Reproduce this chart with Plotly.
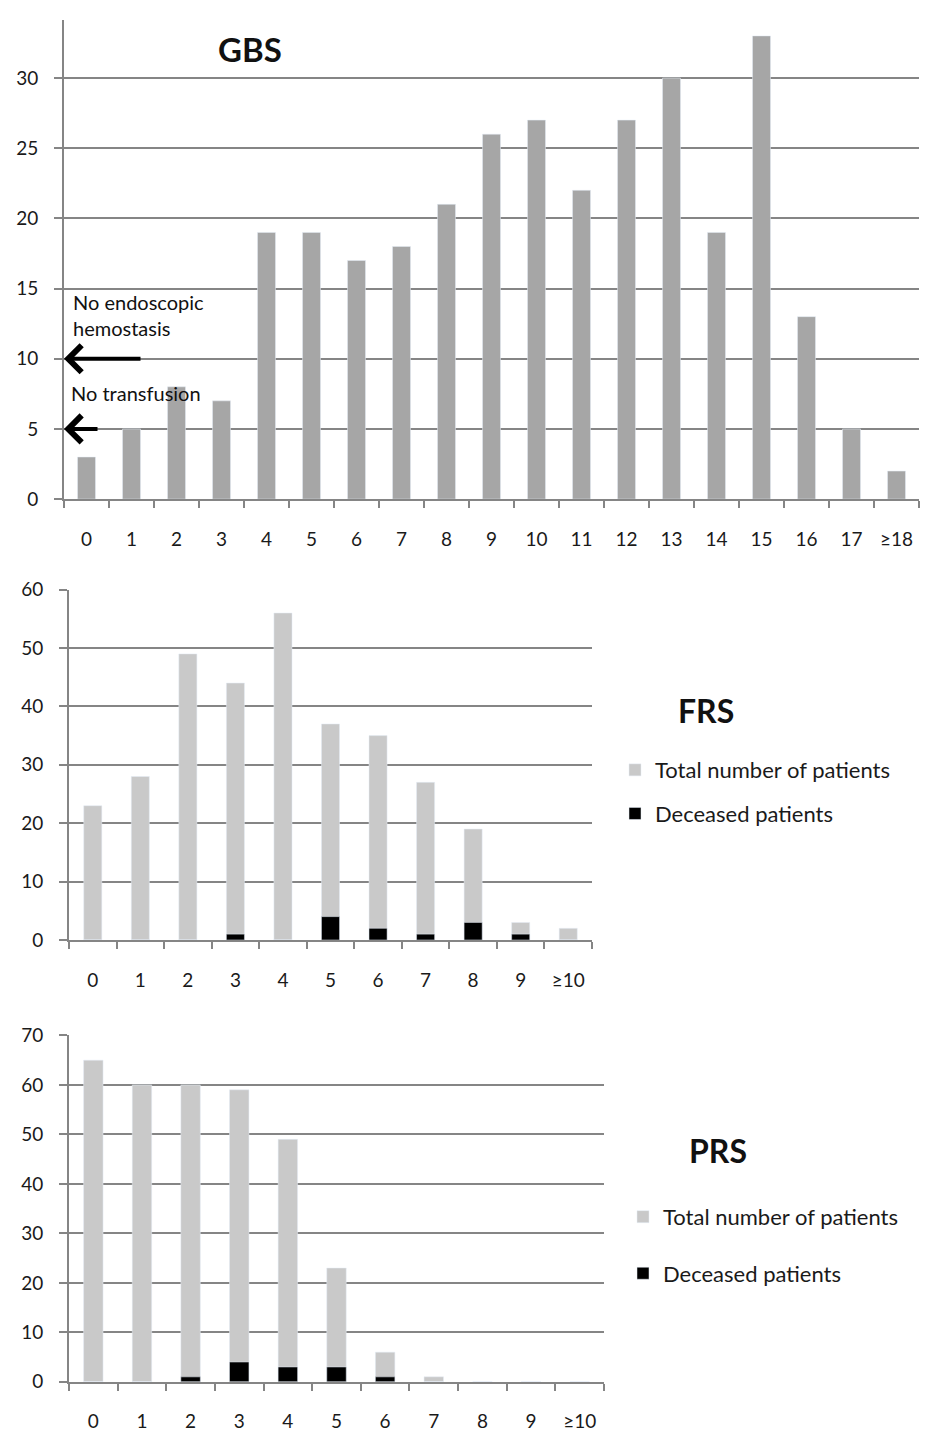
import plotly.graph_objects as go

W, H = 928, 1444

# Glasgow-Blatchford score distribution
gbs_scores = [str(i) for i in range(18)] + ["≥18"]
gbs_patients = [3, 5, 8, 7, 19, 19, 17, 18, 21, 26, 27, 22, 27, 30, 19, 33, 13, 5, 2]

# Full Rockall score
frs_scores = [str(i) for i in range(10)] + ["≥10"]
frs_total = [23, 28, 49, 44, 56, 37, 35, 27, 19, 3, 2]
frs_deceased = [0, 0, 0, 1, 0, 4, 2, 1, 3, 1, 0]

# Pre-endoscopic Rockall score
prs_scores = [str(i) for i in range(10)] + ["≥10"]
prs_total = [65, 60, 60, 59, 49, 23, 6, 1, 0, 0, 0]
prs_deceased = [0, 0, 1, 4, 3, 3, 1, 0, 0, 0, 0]

FONT = "Lato, 'Open Sans', sans-serif"
TXT = "#1a1a1a"
GRID = "#858585"
DARK_BAR = "#a6a6a6"
LIGHT_BAR = "#c9c9c9"


def px(x):
    return x / W


def py(y):
    return 1 - y / H


fig = go.Figure()

fig.add_trace(go.Bar(x=gbs_scores, y=gbs_patients, marker_color=DARK_BAR,
                     width=0.4, showlegend=False, xaxis="x", yaxis="y"))

fig.add_trace(go.Bar(x=frs_scores, y=frs_total, marker_color=LIGHT_BAR, width=0.38,
                     name="Total number of patients", legend="legend",
                     legendgroup="frs_total", xaxis="x2", yaxis="y2"))
fig.add_trace(go.Bar(x=frs_scores, y=frs_deceased, marker_color="#000000", width=0.38,
                     name="Deceased patients", legend="legend",
                     legendgroup="frs_dead", xaxis="x2", yaxis="y2"))

fig.add_trace(go.Bar(x=prs_scores, y=prs_total, marker_color=LIGHT_BAR, width=0.4,
                     name="Total number of patients", legend="legend2",
                     legendgroup="prs_total", xaxis="x3", yaxis="y3"))
fig.add_trace(go.Bar(x=prs_scores, y=prs_deceased, marker_color="#000000", width=0.4,
                     name="Deceased patients", legend="legend2",
                     legendgroup="prs_dead", xaxis="x3", yaxis="y3"))


def xax(domain, anchor):
    return dict(domain=domain, anchor=anchor, type="category", tickson="boundaries",
                ticks="outside", ticklen=7, tickwidth=1.5, tickcolor=GRID,
                showline=True, linecolor=GRID, linewidth=1.6, showgrid=False,
                ticklabelstandoff=22, tickfont=dict(family=FONT, size=19, color=TXT),
                fixedrange=True)


def yax(domain, anchor, rng, dtick):
    return dict(domain=domain, anchor=anchor, range=rng, dtick=dtick, tick0=0,
                ticks="outside", ticklen=8, tickwidth=1.5, tickcolor=GRID,
                showline=True, linecolor=GRID, linewidth=1.6,
                showgrid=True, gridcolor=GRID, gridwidth=1.6, zeroline=False,
                ticklabelstandoff=12, tickfont=dict(family=FONT, size=19, color=TXT),
                fixedrange=True)


legend_common = dict(xanchor="left", yanchor="top", bgcolor="rgba(0,0,0,0)",
                     traceorder="grouped", font=dict(family=FONT, size=22, color=TXT),
                     itemclick=False, itemdoubleclick=False)

fig.update_layout(
    width=W, height=H,
    margin=dict(l=0, r=0, t=0, b=0),
    paper_bgcolor="white", plot_bgcolor="white",
    barmode="overlay",
    font=dict(family=FONT, color=TXT),
    xaxis=xax([px(64), px(919)], "y"),
    yaxis=yax([py(495), py(8.6)], "x", [0, 34.1], 5),
    xaxis2=xax([px(69), px(592)], "y2"),
    yaxis2=yax([py(943), py(587)], "x2", [0, 60], 10),
    xaxis3=xax([px(69), px(604)], "y3"),
    yaxis3=yax([py(1392), py(1040)], "x3", [0, 70], 10),
    legend=dict(x=px(615), y=py(749), tracegroupgap=12, **legend_common),
    legend2=dict(x=px(623), y=py(1203), tracegroupgap=25, **legend_common),
)

annotations = [
    dict(text="<b>GBS</b>", x=px(250), y=py(38), font=dict(size=33)),
    dict(text="<b>FRS</b>", x=px(706), y=py(710), font=dict(size=32)),
    dict(text="<b>PRS</b>", x=px(718), y=py(1157), font=dict(size=32)),
    dict(text="No endoscopic", x=px(71), y=py(295), xanchor="left", font=dict(size=20)),
    dict(text="hemostasis", x=px(71), y=py(321), xanchor="left", font=dict(size=20)),
    dict(text="No transfusion", x=px(69), y=py(387), xanchor="left", font=dict(size=20)),
]
for a in annotations:
    a.setdefault("xanchor", "center")
    a.update(xref="paper", yref="paper", yanchor="middle", showarrow=False)
    a["font"] = dict(family=FONT, color="#111111", **a["font"])

# thresholds marked on the GBS axis
annotations += [
    dict(x=px(64), y=10, xref="paper", yref="y", ax=78, ay=0, text="",
         showarrow=True, arrowhead=4, arrowsize=1.3, arrowwidth=4, arrowcolor="#000000"),
    dict(x=px(64), y=5, xref="paper", yref="y", ax=35, ay=0, text="",
         showarrow=True, arrowhead=4, arrowsize=1.3, arrowwidth=4, arrowcolor="#000000"),
]
fig.update_layout(annotations=annotations)

fig.write_html("out.html")
